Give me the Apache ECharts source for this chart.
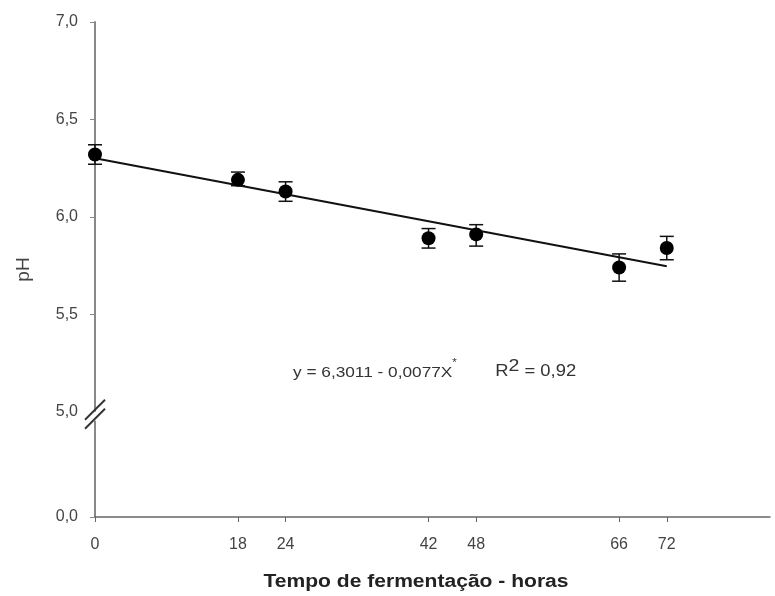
<!DOCTYPE html>
<html>
<head>
<meta charset="utf-8">
<script src="https://cdn.jsdelivr.net/npm/echarts@6/dist/echarts.min.js"></script>
<style>
html,body{margin:0;padding:0;background:#fff;}
#chart{width:775px;height:596px;}
</style>
</head>
<body>
<div id="chart"></div>
<script>
// tempo (horas) e pH medio com desvio
var horas = [0, 18, 24, 42, 48, 66, 72];
var phMedio = [6.32, 6.19, 6.13, 5.89, 5.91, 5.74, 5.84];
var phErroSup = [6.37, 6.23, 6.18, 5.94, 5.96, 5.81, 5.90];
var phErroInf = [6.27, 6.16, 6.08, 5.84, 5.85, 5.67, 5.78];
// reta ajustada (extremos)
var retaX = [0, 72];
var retaY = [6.3011, 5.7467];
var xTicks = [0, 18, 24, 42, 48, 66, 72];
var yTicks = [4.46, 5.5, 6.0, 6.5, 7.0];
var yLabels = [4.46, 5.0, 5.5, 6.0, 6.5, 7.0];
var yZero = 4.46; // posicao do 0,0 depois da quebra

var textCor = '#444';
var el = document.getElementById('chart');
var chart = echarts.init(el);

var pontos = horas.map(function (h, i) { return [h, phMedio[i]]; });
var erros = horas.map(function (h, i) { return [h, phErroInf[i], phErroSup[i]]; });
var reta = retaX.map(function (x, i) { return [x, retaY[i]]; });

var option = {
	animation: false,
	grid: {
		left: 95,
		right: 5,
		top: 22,
		bottom: 79
	},
	xAxis: {
		type: 'value',
		min: 0,
		max: 85,
		splitLine: {show: false},
		axisLine: {lineStyle: {color: '#666', width: 1.5}},
		axisTick: {
			length: 5,
			customValues: xTicks,
			lineStyle: {color: '#666'}
		},
		axisLabel: {
			customValues: xTicks,
			margin: 20,
			fontFamily: 'Liberation Sans',
			fontSize: 16,
			color: textCor
		}
	},
	yAxis: {
		type: 'value',
		min: yZero,
		max: 7.0,
		name: 'pH',
		nameLocation: 'middle',
		nameGap: 62,
		nameTextStyle: {
			fontFamily: 'Liberation Sans',
			fontSize: 19,
			color: textCor
		},
		splitLine: {show: false},
		axisLine: {lineStyle: {color: '#888', width: 2}},
		axisTick: {
			length: 5,
			customValues: yTicks,
			lineStyle: {color: '#888'}
		},
		axisLabel: {
			customValues: yLabels,
			margin: 17,
			fontFamily: 'Liberation Sans',
			fontSize: 16,
			color: textCor,
			formatter: function (v) {
				if (Math.abs(v - yZero) < 1e-6) return '0,0';
				return v.toFixed(1).replace('.', ',');
			}
		}
	},
	series: [
		{
			type: 'line',
			data: reta,
			symbol: 'none',
			lineStyle: {color: '#111', width: 2},
			z: 2
		},
		{
			type: 'custom',
			data: erros,
			z: 3,
			renderItem: function (params, api) {
				var x = api.value(0);
				var lo = api.coord([x, api.value(1)]);
				var hi = api.coord([x, api.value(2)]);
				var w = 7;
				var st = {stroke: '#111', lineWidth: 1.5};
				return {
					type: 'group',
					children: [
						{type: 'line', shape: {x1: lo[0], y1: lo[1], x2: hi[0], y2: hi[1]}, style: st},
						{type: 'line', shape: {x1: lo[0] - w, y1: lo[1], x2: lo[0] + w, y2: lo[1]}, style: st},
						{type: 'line', shape: {x1: hi[0] - w, y1: hi[1], x2: hi[0] + w, y2: hi[1]}, style: st}
					]
				};
			}
		},
		{
			type: 'scatter',
			data: pontos,
			symbolSize: 14,
			itemStyle: {color: '#000', opacity: 1},
			z: 4
		}
	]
};
chart.setOption(option);

// quebra do eixo y em 5,0, titulo do eixo x e equacao
var pQuebra = chart.convertToPixel({gridIndex: 0}, [0, 5.0]);
var qx = pQuebra[0], qy = pQuebra[1] + 5;
chart.setOption({
	graphic: [
		{type: 'rect', shape: {x: qx - 3, y: qy - 5, width: 6, height: 9}, style: {fill: '#fff'}, z: 100},
		{type: 'line', shape: {x1: qx - 10, y1: qy + 3, x2: qx + 10, y2: qy - 17}, style: {stroke: '#333', lineWidth: 2}, z: 101},
		{type: 'line', shape: {x1: qx - 10, y1: qy + 12, x2: qx + 10, y2: qy - 8}, style: {stroke: '#333', lineWidth: 2}, z: 101},
		{
			type: 'text',
			x: 416,
			y: 582,
			scaleX: 1.17,
			style: {
				text: 'Tempo de fermentação - horas',
				fontFamily: 'Liberation Sans',
				fontSize: 18,
				fontWeight: 'bold',
				fill: '#222',
				align: 'center',
				verticalAlign: 'middle'
			},
			z: 100
		},
		{
			type: 'text',
			x: 293,
			y: 369,
			scaleX: 1.15,
			style: {
				text: '{a|y = 6,3011 - 0,0077X}{t|*}{a|        }{b|R}{s|2}{b| = 0,92}',
				verticalAlign: 'middle',
				rich: {
					a: {fontFamily: 'Liberation Sans', fontSize: 15, fill: '#333', verticalAlign: 'bottom', lineHeight: 22},
					b: {fontFamily: 'Liberation Sans', fontSize: 16, fill: '#333', verticalAlign: 'bottom', lineHeight: 22},
					t: {fontFamily: 'Liberation Sans', fontSize: 10, fill: '#333', verticalAlign: 'top', lineHeight: 22, padding: [0, 0, 6, 0]},
					s: {fontFamily: 'Liberation Sans', fontSize: 17, fill: '#333', verticalAlign: 'top', lineHeight: 22, padding: [0, 0, 8, 0]}
				}
			},
			z: 100
		}
	]
});
</script>
</body>
</html>
